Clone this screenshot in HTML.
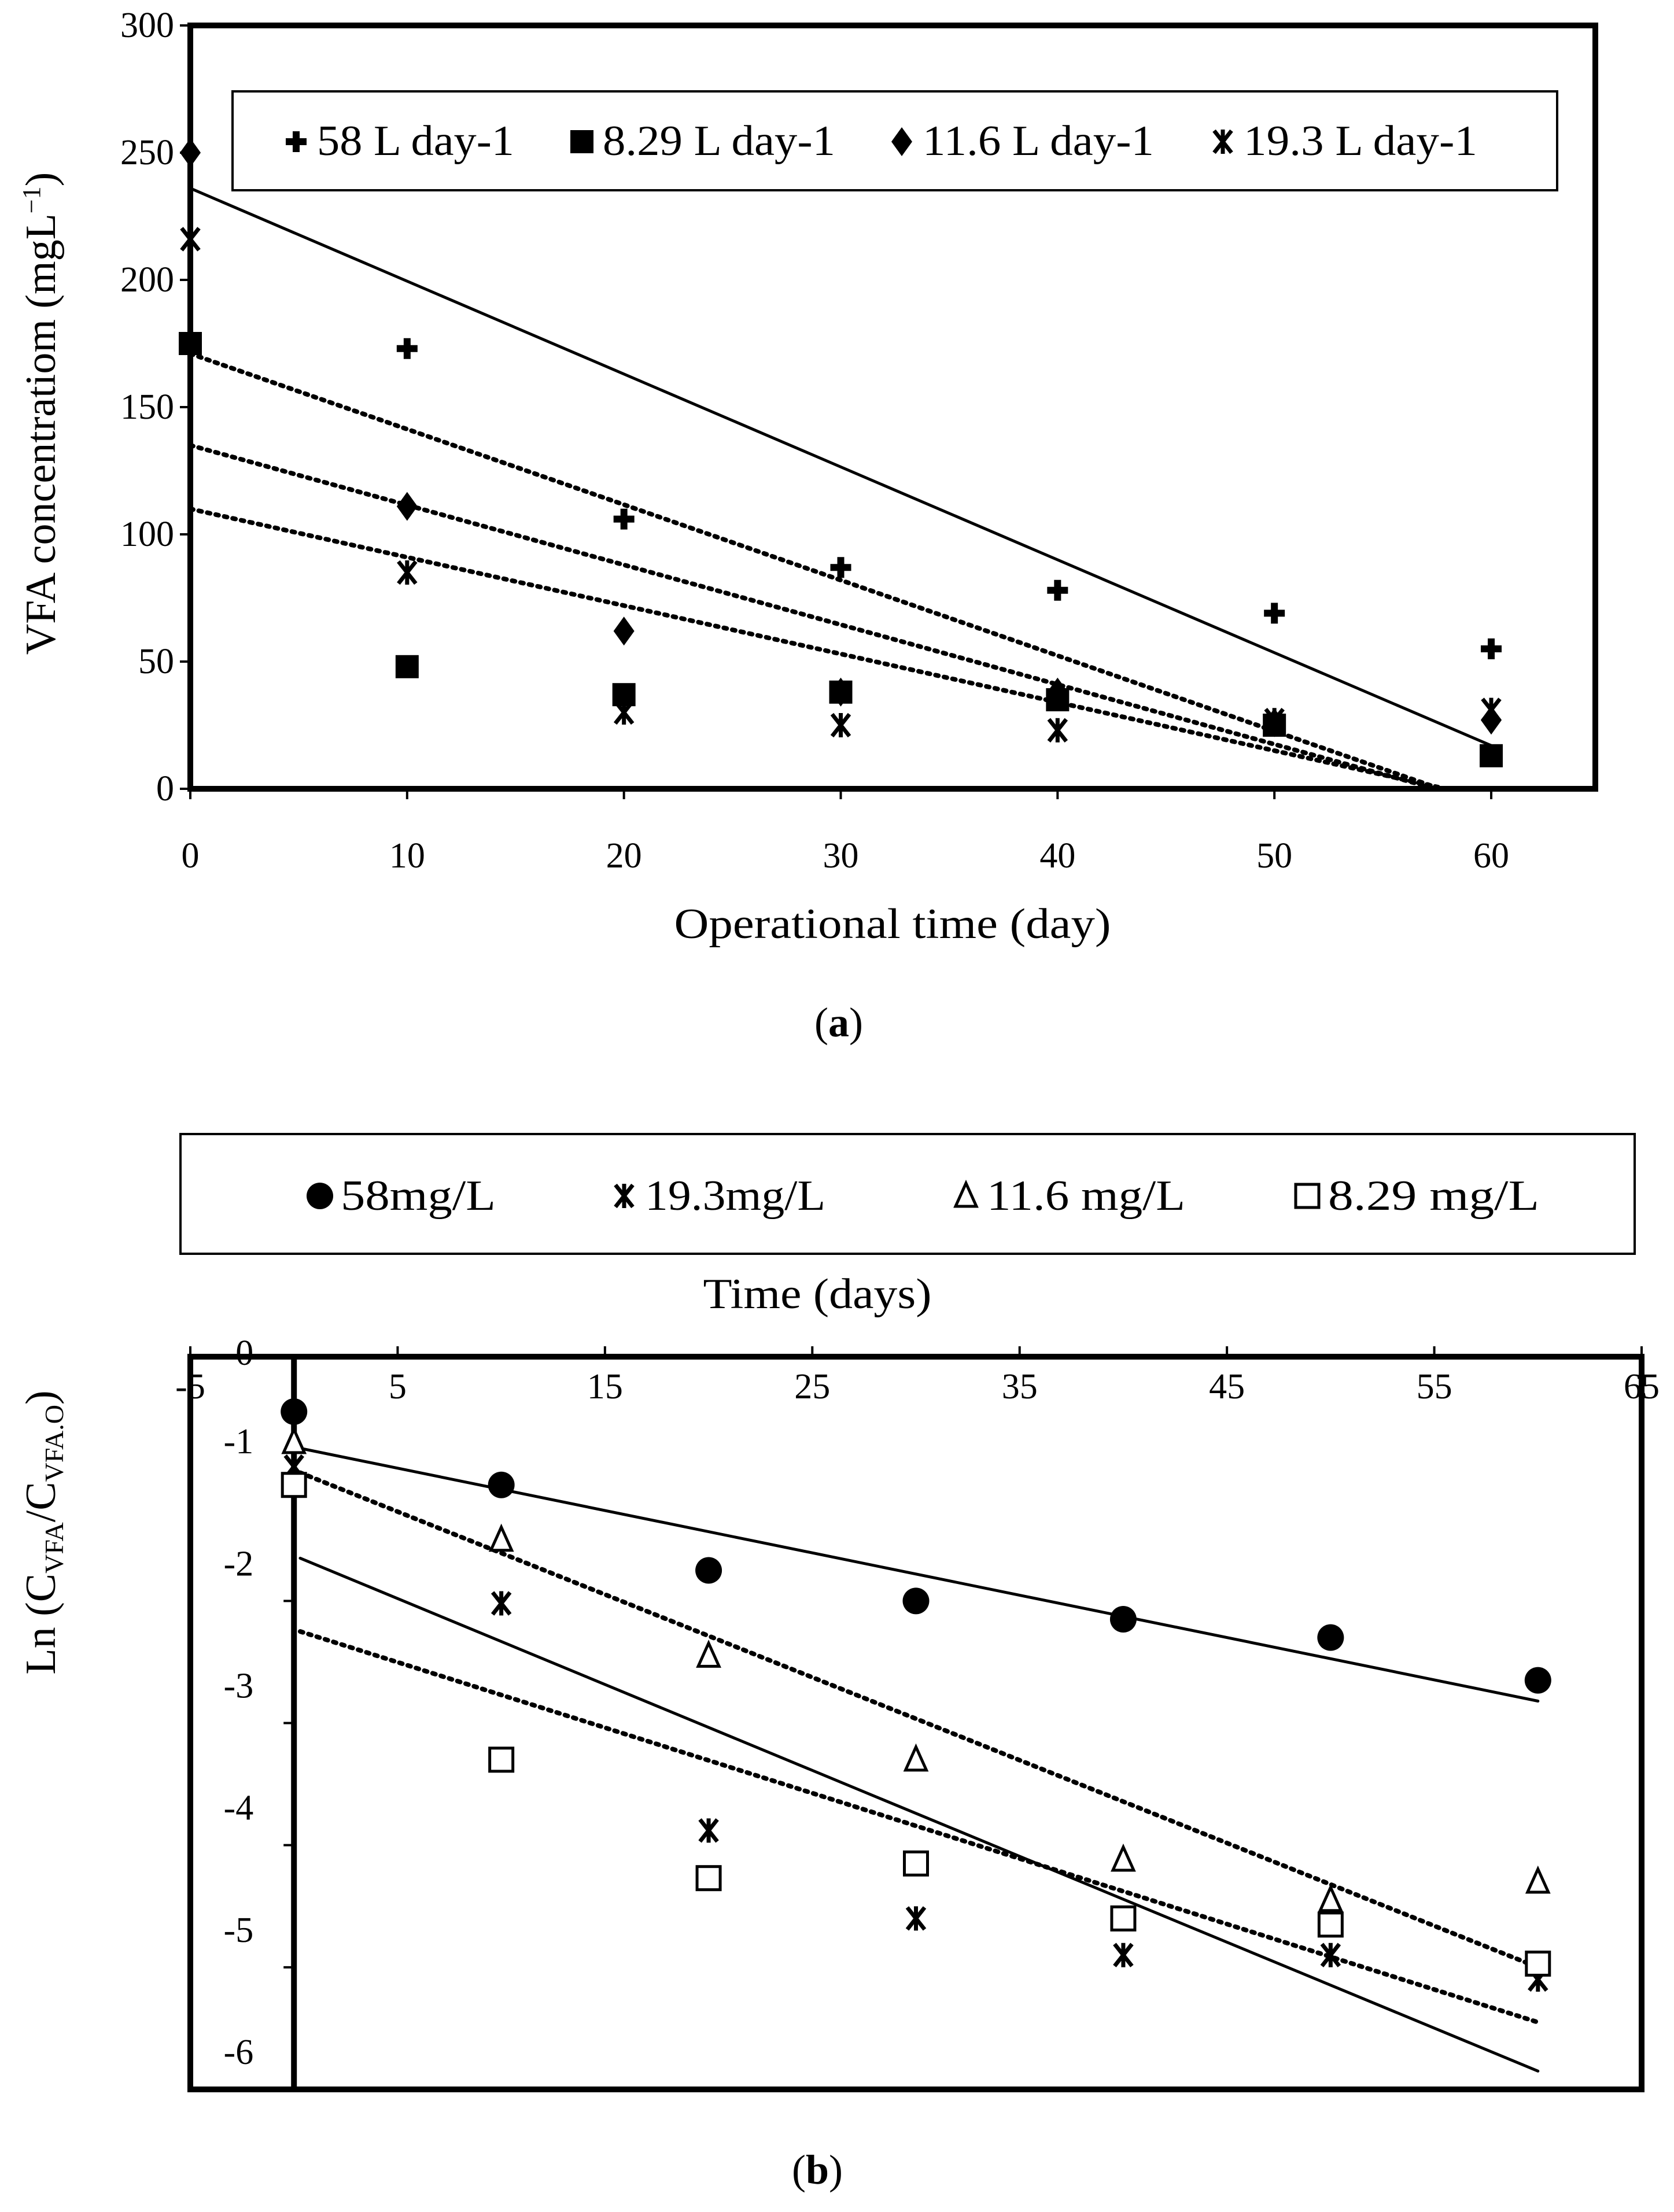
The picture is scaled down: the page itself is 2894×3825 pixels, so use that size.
<!DOCTYPE html>
<html><head><meta charset="utf-8"><style>
html,body{margin:0;padding:0;background:#fff}
svg{display:block}
text{font-family:"Liberation Serif",serif;fill:#000}
</style></head><body>
<svg id="s" width="2894" height="3825" viewBox="0 0 2894 3825" xmlns="http://www.w3.org/2000/svg">
<g id="ga"></g>
<g id="gb"></g>
</svg>
<script>
// ---- Chart A data ----
const aDays = [0,10,20,30,40,50,60];
const aSeriesNames = ["58 L day-1","8.29 L day-1","11.6 L day-1","19.3 L day-1"];
const a58 = [null,173,106,87,78,69,55];
const a829 = [175,48,37,38,35,25,13];
const a116 = [250,111,62,38,38,26,27];
const a193 = [216,85,30,25,23,27,31];
const aTrendIntercept = [236,171,135,110];
const aTrendEnd = [17,-7,-6,-4];
const aXTicks = [0,10,20,30,40,50,60];
const aYTicks = [0,50,100,150,200,250,300];
// ---- Chart B data ----
const bDays = [0,10,20,30,40,50,60];
const bSeriesNames = ["58mg/L","19.3mg/L","11.6 mg/L","8.29 mg/L"];
const b58 = [-0.45,-1.05,-1.75,-2.0,-2.15,-2.3,-2.65];
const b193 = [-0.9,-2.02,-3.88,-4.6,-4.9,-4.9,-5.1];
const b116 = [-0.7,-1.5,-2.45,-3.3,-4.12,-4.45,-4.3];
const b829 = [-1.05,-3.3,-4.27,-4.15,-4.6,-4.65,-4.97];
const bTrendStart = [-0.75,-1.65,-0.95,-2.25];
const bTrendEnd = [-2.82,-5.85,-5.0,-5.45];
const bXTicks = [-5,5,15,25,35,45,55,65];
const bYTicks = [0,-1,-2,-3,-4,-5,-6];

const NS="http://www.w3.org/2000/svg";
function mk(parent,tag,attrs,text){const e=document.createElementNS(NS,tag);for(const k in attrs)e.setAttribute(k,attrs[k]);if(text!==undefined)e.textContent=text;parent.appendChild(e);return e;}

function marker(g,type,x,y){
  let e;
  if(type==="plus"){e=mk(g,"path",{d:`M${x-18} ${y}H${x+18}M${x} ${y-18}V${y+18}`,stroke:"#000","stroke-width":12,fill:"none"});}
  else if(type==="sq"){e=mk(g,"rect",{x:x-20,y:y-20,width:40,height:40,fill:"#000"});}
  else if(type==="dia"){e=mk(g,"path",{d:`M${x} ${y-25}L${x+18} ${y}L${x} ${y+25}L${x-18} ${y}Z`,fill:"#000"});}
  else if(type==="star"){e=mk(g,"path",{d:`M${x-15} ${y-19}L${x+15} ${y+19}M${x+15} ${y-19}L${x-15} ${y+19}M${x} ${y-21}V${y+21}`,stroke:"#000","stroke-width":7,fill:"none"});}
  else if(type==="circ"){e=mk(g,"circle",{cx:x,cy:y,r:23,fill:"#000"});}
  else if(type==="tri"){e=mk(g,"path",{d:`M${x} ${y-22}L${x+18} ${y+18}L${x-18} ${y+18}Z`,fill:"#fff",stroke:"#000","stroke-width":5});}
  else if(type==="osq"){e=mk(g,"rect",{x:x-20,y:y-20,width:40,height:40,fill:"#fff",stroke:"#000","stroke-width":5});}
  return e;
}

// ===== Chart A =====
(function(){
const g=document.getElementById("ga");
const X0=329,X1=2758,Y0=1364,YT=44;
const xs=d=>X0+d*(2578-329)/60;
const ys=v=>Y0-v*(Y0-YT)/300;
const frame=mk(g,"rect",{x:X0,y:YT,width:X1-X0,height:Y0-YT,fill:"none",stroke:"#000","stroke-width":10});

aXTicks.forEach(t=>{
  mk(g,"line",{x1:xs(t),x2:xs(t),y1:Y0,y2:Y0+18,stroke:"#000","stroke-width":4});
  const l=mk(g,"text",{x:xs(t),y:1500,"font-size":62,"text-anchor":"middle"},String(t));
  
});
aYTicks.forEach(t=>{
  mk(g,"line",{x1:X0-18,x2:X0,y1:ys(t),y2:ys(t),stroke:"#000","stroke-width":4});
  const l=mk(g,"text",{x:X0-28,y:ys(t)+20,"font-size":62,"text-anchor":"end"},String(t));
  
});
const xt=mk(g,"text",{x:1543,y:1622,"font-size":74,"text-anchor":"middle",textLength:755,lengthAdjust:"spacingAndGlyphs"},"Operational time (day)");

const yt=mk(g,"text",{x:0,y:0,"font-size":74,"text-anchor":"middle",transform:"translate(95,715) rotate(-90)"});

yt.innerHTML='VFA concentratiom  (mgL<tspan font-size="44" dy="-26">−1</tspan><tspan dy="26">)</tspan>';
const cap=mk(g,"text",{x:1450,y:1792,"font-size":72,"text-anchor":"middle"});

cap.innerHTML='(<tspan font-weight="bold">a</tspan>)';
const dashes=[null,"5 10","5 10","5 10"];
aTrendIntercept.forEach((b,i)=>{
  let e=aTrendEnd[i];let xe=60,ye=e;
  if(e<0){xe=60*b/(b-e);ye=0;}
  const ln=mk(g,"line",{x1:xs(0),y1:ys(b),x2:xs(xe),y2:ys(ye),stroke:"#000","stroke-width":dashes[i]?8:5,"stroke-dasharray":dashes[i]||"none","stroke-linecap":"round"});
  
});
const series=[[a58,"plus"],[a829,"sq"],[a116,"dia"],[a193,"star"]];
series.forEach(([vals,t])=>{
  vals.forEach((v,j)=>{ if(v===null)return;
    const m=marker(g,t,xs(aDays[j]),ys(v));
    
  });
});
const lg=mk(g,"g",{});

mk(lg,"rect",{x:402,y:158,width:2290,height:171,fill:"#fff",stroke:"#000","stroke-width":4});
const lx=[512,1006,1559,2114];const types=["plus","sq","dia","star"];const tl=[341,402,400,404];
aSeriesNames.forEach((n,i)=>{
  const m=marker(lg,types[i],lx[i],245);
  
  const t=mk(lg,"text",{x:lx[i]+36,y:268,"font-size":74,textLength:tl[i],lengthAdjust:"spacingAndGlyphs"},n);
  
});
})();

// ===== Chart B =====
(function(){
const g=document.getElementById("gb");
const L=329,R=2838,T=2346,B=3613;
const xs=d=>L+(d+5)*(R-L)/70;
const ys=v=>T-v*(B-T)/6;
const frame=mk(g,"rect",{x:L,y:T,width:R-L,height:B-T,fill:"none",stroke:"#000","stroke-width":10});

mk(g,"line",{x1:xs(0),x2:xs(0),y1:T,y2:B,stroke:"#000","stroke-width":10});
bXTicks.forEach(t=>{
  mk(g,"line",{x1:xs(t),x2:xs(t),y1:T-18,y2:T,stroke:"#000","stroke-width":4});
  const l=mk(g,"text",{x:xs(t),y:T+72,"font-size":62,"text-anchor":"middle"},String(t));
  
});
bYTicks.forEach(t=>{
  mk(g,"line",{x1:xs(0)-18,x2:xs(0),y1:ys(t),y2:ys(t),stroke:"#000","stroke-width":4});
  const by = t===0 ? T+14 : ys(t)-44;
  const l=mk(g,"text",{x:xs(0)-70,y:by,"font-size":62,"text-anchor":"end"},String(t));
  
});
const xt=mk(g,"text",{x:1413,y:2262,"font-size":74,"text-anchor":"middle",textLength:395,lengthAdjust:"spacingAndGlyphs"},"Time (days)");

const yt=mk(g,"text",{x:0,y:0,"font-size":74,"text-anchor":"middle",transform:"translate(95,2650) rotate(-90)"});

yt.innerHTML='Ln (C<tspan font-size="46" dy="14">VFA</tspan><tspan dy="-14">/C</tspan><tspan font-size="46" dy="14">VFA.O</tspan><tspan dy="-14">)</tspan>';
const cap=mk(g,"text",{x:1413,y:3776,"font-size":72,"text-anchor":"middle"});

cap.innerHTML='(<tspan font-weight="bold">b</tspan>)';
const dashes=[null,null,"5 10","5 10"];
bTrendStart.forEach((s,i)=>{
  const ln=mk(g,"line",{x1:xs(0.3),y1:ys(s),x2:xs(60),y2:ys(bTrendEnd[i]),stroke:"#000","stroke-width":dashes[i]?8:5,"stroke-dasharray":dashes[i]||"none","stroke-linecap":"round"});
  
});
const series=[[b58,"circ"],[b193,"star"],[b116,"tri"],[b829,"osq"]];
series.forEach(([vals,t])=>{
  vals.forEach((v,j)=>{
    const m=marker(g,t,xs(bDays[j]),ys(v));
    
  });
});
const lg=mk(g,"g",{});

mk(lg,"rect",{x:312,y:1961,width:2514,height:207,fill:"#fff",stroke:"#000","stroke-width":4});
const lx=[553,1079,1670,2260];const types=["circ","star","tri","osq"];const tl=[268,312,343,365];
bSeriesNames.forEach((n,i)=>{
  const m=marker(lg,types[i],lx[i],2068);
  
  const t=mk(lg,"text",{x:lx[i]+36,y:2092,"font-size":74,textLength:tl[i],lengthAdjust:"spacingAndGlyphs"},n);
  
});
})();
</script>
</body></html>
